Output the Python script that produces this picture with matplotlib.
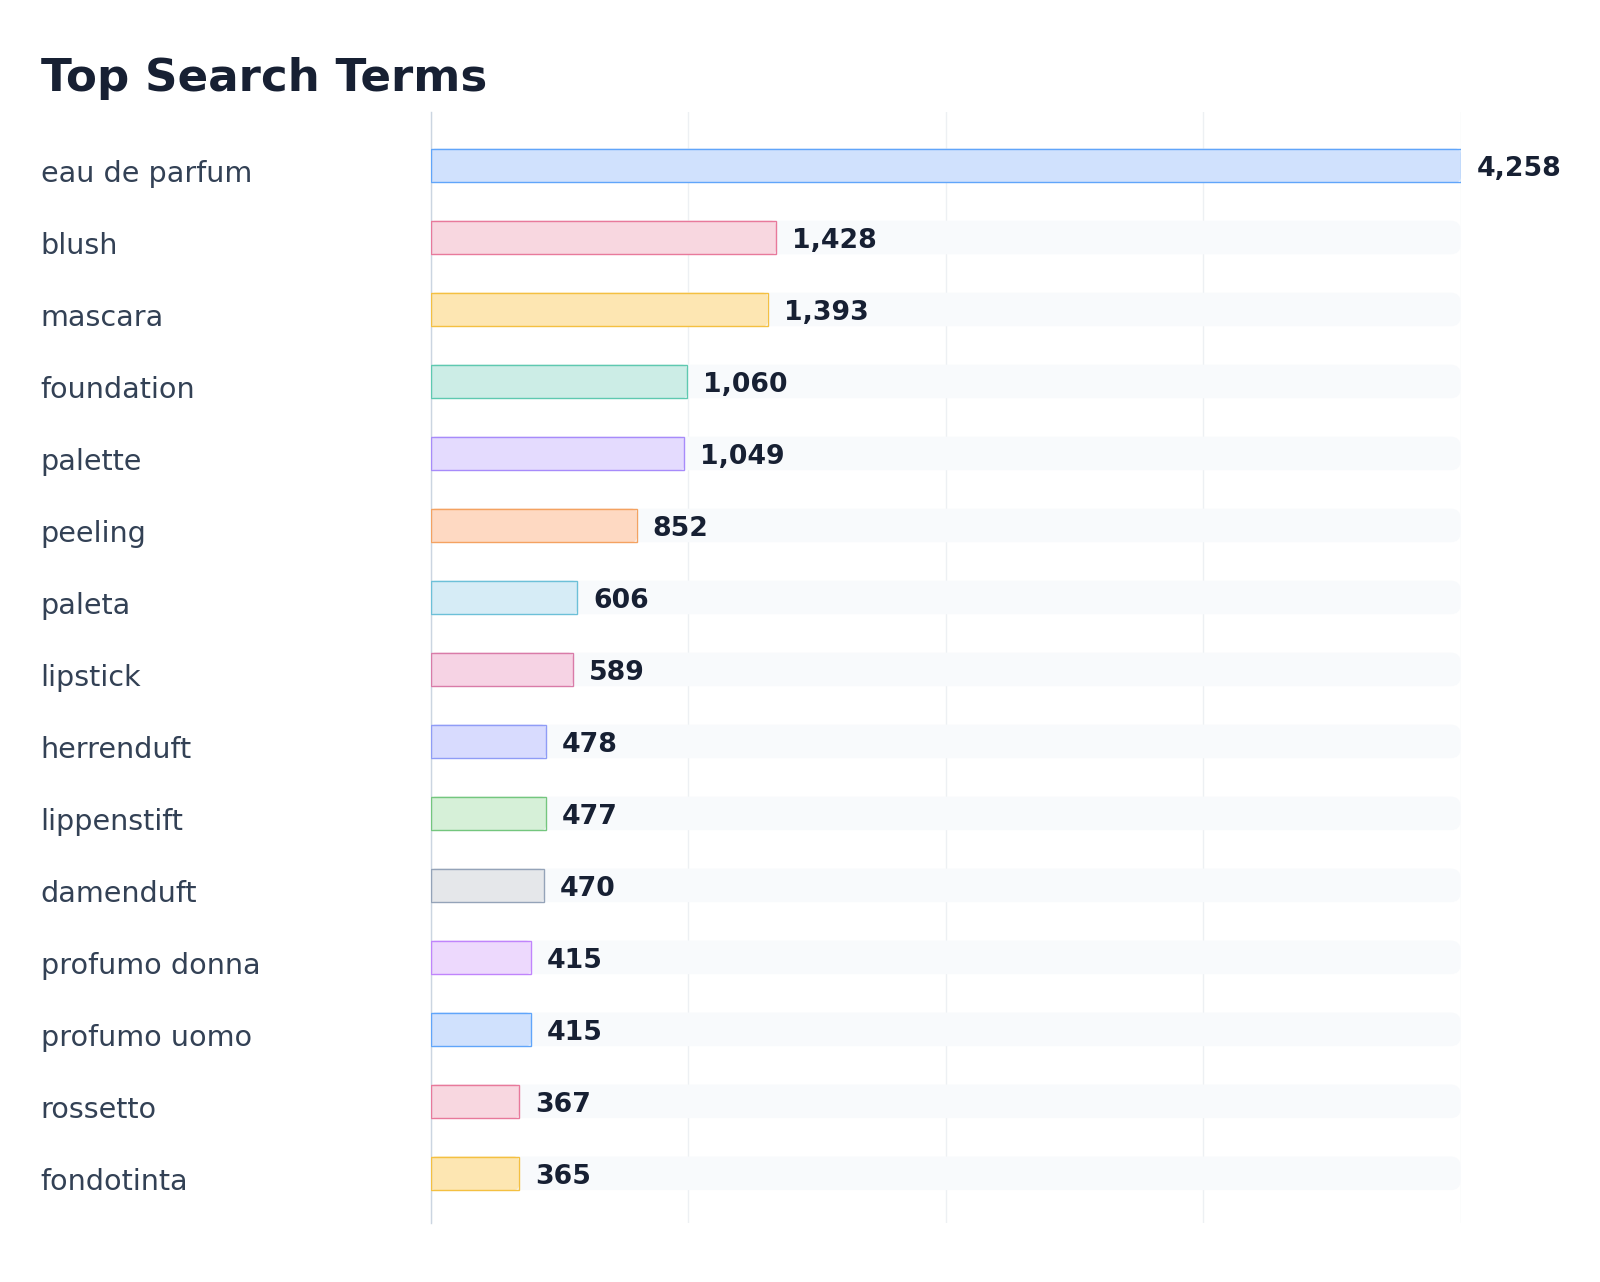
import numpy as np
import matplotlib.pyplot as plt
import matplotlib.transforms as mtransforms
from matplotlib.patches import FancyBboxPatch

# Data
terms = ["eau de parfum", "blush", "mascara", "foundation", "palette", "peeling",
         "paleta", "lipstick", "herrenduft", "lippenstift", "damenduft",
         "profumo donna", "profumo uomo", "rossetto", "fondotinta"]
counts = [4258, 1428, 1393, 1060, 1049, 852, 606, 589, 478, 477, 470, 415, 415, 367, 365]

fills = ["#d0e1fd", "#f8d7e0", "#fde6b2", "#ccede6", "#e4dbfe", "#fed9c2",
         "#d6ecf6", "#f6d3e4", "#d8dbfe", "#d6f0d8", "#e5e7ea", "#edd9fd"]
edges = ["#60a5fa", "#e8799b", "#f4c041", "#5ec9b0", "#a78bfa", "#f4a261",
         "#6cc0d8", "#d97ba8", "#8f9cf6", "#74c67e", "#94a3b8", "#c084fc"]

W, H = 1600, 1282
L, R, T, B = 430.5, 1460.7, 112.3, 1222.7
fig = plt.figure(figsize=(W / 100, H / 100), dpi=100)
ax = fig.add_axes([L / W, 1 - B / H, (R - L) / W, (B - T) / H])

xmax = max(counts)
y = np.arange(len(terms))
ylo, yhi = len(terms) - 1 + 0.686, -0.739
ax.set_xlim(0, xmax)
ax.set_ylim(ylo, yhi)

# pixel -> data scale, for rounded corners
xu = xmax / (R - L)
yu = (ylo - yhi) / (B - T)
bh = 0.467

# background tracks
for yi in y:
    ax.add_patch(FancyBboxPatch((0, yi - bh / 2), xmax, bh,
                                boxstyle="round,pad=0,rounding_size=%f" % (10 * xu),
                                mutation_aspect=yu / xu,
                                facecolor="#f8fafc", edgecolor="none", zorder=1))

bar_fc = [fills[i % len(fills)] for i in range(len(terms))]
bar_ec = [edges[i % len(edges)] for i in range(len(terms))]

# rounded fills, square outlines
for yi, v, fc in zip(y, counts, bar_fc):
    ax.add_patch(FancyBboxPatch((0, yi - bh / 2), v, bh,
                                boxstyle="round,pad=0,rounding_size=%f" % (5 * xu),
                                mutation_aspect=yu / xu,
                                facecolor=fc, edgecolor="none", zorder=2))
ax.barh(y, counts, height=bh, color="none", edgecolor=bar_ec, linewidth=1.0, zorder=3)

val_off = mtransforms.ScaledTranslation(16 / 100, -10.5 / 100, fig.dpi_scale_trans)
for yi, v in zip(y, counts):
    ax.text(v, yi, "{:,}".format(v), transform=ax.transData + val_off,
            ha="left", va="baseline", fontsize=19.3, fontweight="bold", color="#172033")

# category labels
lab_tr = mtransforms.blended_transform_factory(fig.transFigure, ax.transData) + \
    mtransforms.ScaledTranslation(0, -16.5 / 100, fig.dpi_scale_trans)
for yi, t in zip(y, terms):
    ax.text(40.7 / W, yi, t, transform=lab_tr, ha="left", va="baseline",
            fontsize=20.6, color="#334155")

# grid
ax.set_xticks(np.linspace(0, xmax, 5))
ax.xaxis.grid(True, color="#edf0f3", linewidth=1)
ax.set_axisbelow(True)
ax.tick_params(axis="x", length=0, labelbottom=False)
ax.set_yticks([])

for s in ["top", "right", "bottom"]:
    ax.spines[s].set_visible(False)
ax.spines["left"].set_color("#cbd5e1")
ax.spines["left"].set_linewidth(1)

fig.text(40.7 / W, 1 - 91 / H, "Top Search Terms", fontsize=32.5, fontweight="bold",
         color="#172033", ha="left", va="baseline")

fig.savefig("out.png", dpi=100, facecolor="white")
